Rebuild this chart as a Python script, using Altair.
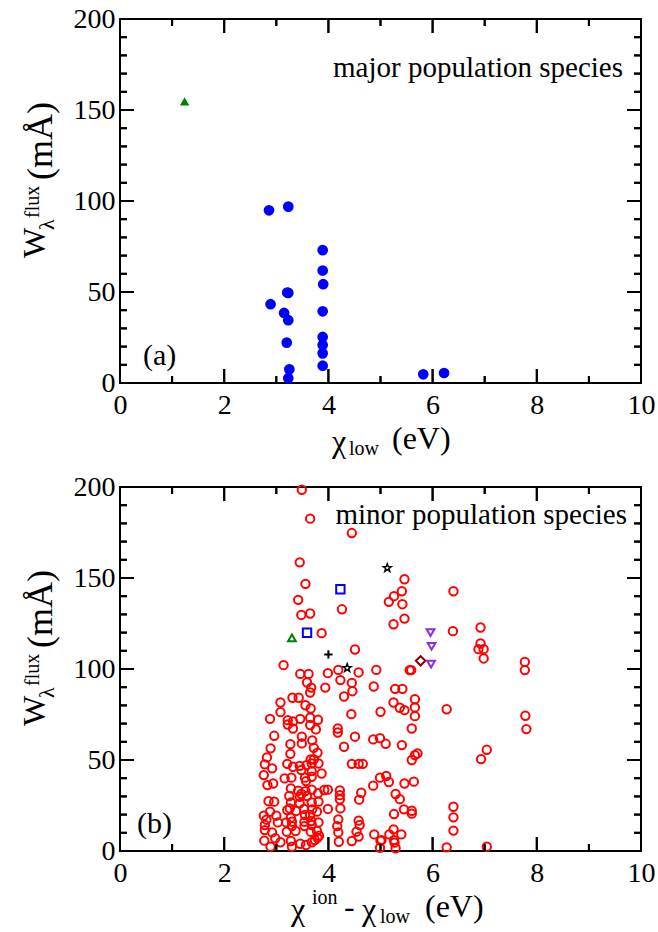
import altair as alt
import pandas as pd

FONT = "Liberation Serif, Times New Roman, Times, serif"

# ---------------- panel (a): major population species ----------------
a_circ_x = [2.86, 3.23, 3.89, 3.89, 3.90, 3.21, 3.23, 2.89, 3.15, 3.23, 3.89,
            3.20, 3.89, 3.89, 3.89, 3.89, 3.25, 3.23, 5.82, 6.22]
a_circ_w = [94.9, 96.9, 73.0, 61.8, 54.3, 49.7, 49.5, 43.3, 38.5, 34.5, 39.4,
            22.2, 25.3, 20.9, 16.3, 9.5, 7.5, 2.6, 4.8, 5.5]
a_tri_x = [1.24]
a_tri_w = [154.7]

# ---------------- panel (b): minor population species ----------------
b_circ_x = [3.49, 3.65, 4.45, 3.45, 3.56, 3.42, 4.26, 3.48, 3.65, 3.87, 4.51, 3.14,
            3.46, 3.62, 3.99, 4.19, 4.23, 4.58, 4.92, 3.59, 3.65, 3.67, 3.94, 4.45,
            4.46, 4.30, 3.31, 3.43, 3.08, 3.08, 3.56, 3.66, 3.65, 2.88, 3.22, 3.32,
            3.46, 3.80, 3.22, 3.65, 4.44, 5.00, 3.32, 3.76, 4.18, 4.18, 2.96, 3.49,
            3.69, 3.27, 3.49, 4.51, 4.30, 4.86, 4.99, 2.89, 3.72, 3.79, 2.82, 3.27,
            3.66, 3.72, 3.81, 2.78, 3.21, 3.32, 3.45, 3.58, 3.68, 4.45, 4.58, 4.66,
            2.92, 3.48, 3.68, 3.87, 2.76, 3.16, 3.29, 3.55, 3.68, 3.57, 2.83, 2.94,
            4.99, 4.86, 3.28, 3.42, 3.56, 3.68, 3.92, 3.99, 4.22, 4.63, 3.48, 3.25,
            3.45, 3.59, 3.80, 4.22, 2.85, 2.96, 3.28, 3.45, 3.68, 3.81, 4.22, 4.59,
            3.26, 3.53, 3.69, 3.99, 4.23, 3.21, 3.38, 3.78, 2.88, 2.76, 3.00, 3.55,
            3.65, 3.28, 2.81, 4.19, 4.58, 3.03, 3.19, 3.30, 3.54, 3.67, 3.81, 2.78,
            3.30, 3.54, 3.68, 4.17, 4.60, 2.78, 2.92, 3.20, 3.37, 3.66, 3.78, 4.19,
            4.54, 4.88, 2.77, 2.98, 3.08, 3.28, 3.30, 3.46, 3.57, 3.68, 3.74, 3.79,
            3.82, 4.20, 4.45, 2.89, 4.58, 5.02,
            5.46, 5.41, 5.26, 5.16, 5.42, 5.46, 5.25, 6.40, 6.39, 6.92, 6.92, 6.88,
            6.98, 6.98, 7.77, 7.77, 5.56, 5.59, 4.87, 5.28, 5.42, 5.25, 5.37, 5.46,
            5.66, 5.66, 5.66, 5.60, 6.27, 7.78, 7.80, 5.10, 5.41, 5.60, 5.66, 5.71,
            6.93, 7.04, 5.11, 5.16, 5.46, 5.64, 5.29, 5.37, 5.45, 5.60, 5.60, 5.26,
            6.40, 6.40, 6.40, 5.17, 5.25, 5.26, 5.27, 5.40, 5.00, 4.99, 6.27, 7.04,
            5.29]
b_circ_w = [198.5, 182.6, 174.7, 158.6, 146.8, 138.0, 132.8, 129.7, 130.5, 119.7, 110.7, 102.1,
            97.3, 97.3, 97.7, 99.5, 93.9, 98.1, 99.5, 92.6, 87.1, 89.8, 89.8, 92.4,
            87.8, 84.9, 84.2, 84.2, 81.6, 76.3, 80.1, 78.3, 73.2, 72.6, 71.9, 71.2,
            72.6, 72.1, 69.5, 69.2, 75.2, 76.5, 67.3, 66.8, 67.3, 65.1, 63.3, 62.8,
            60.8, 58.7, 59.1, 62.8, 57.3, 61.3, 62.0, 56.4, 56.7, 54.0, 51.4, 53.4,
            50.3, 50.3, 48.1, 47.6, 47.9, 46.3, 46.8, 47.2, 48.1, 47.9, 47.9, 47.9,
            45.4, 44.5, 43.9, 42.6, 41.7, 39.9, 40.3, 40.3, 40.8, 38.4, 36.2, 37.1,
            40.3, 35.9, 34.4, 33.1, 32.9, 33.7, 33.5, 33.7, 33.3, 32.0, 31.3, 30.2,
            29.8, 30.2, 31.7, 30.7, 27.4, 27.1, 26.7, 26.2, 26.7, 27.1, 28.4, 28.2,
            23.4, 23.1, 22.9, 23.1, 23.4, 22.5, 22.0, 21.6, 21.6, 19.4, 19.4, 19.8,
            19.8, 18.3, 17.2, 17.4, 16.7, 15.7, 15.7, 16.1, 16.1, 16.5, 15.7, 14.3,
            13.7, 13.7, 14.3, 13.7, 14.3, 11.5, 10.2, 10.6, 11.0, 10.6, 11.0, 10.2,
            10.6, 9.1, 5.7, 7.0, 4.8, 5.5, 2.4, 4.0, 3.3, 4.8, 6.0, 7.3,
            8.4, 5.1, 5.5, 2.4, 7.9, 6.0,
            149.3, 142.7, 140.0, 136.9, 135.6, 127.7, 124.6, 142.7, 120.8, 122.8, 114.0, 110.9,
            110.9, 105.8, 103.9, 99.4, 99.4, 99.4, 90.4, 89.1, 89.1, 81.6, 78.7, 77.4,
            83.4, 78.9, 74.1, 67.3, 77.9, 74.3, 67.0, 58.9, 58.2, 50.0, 52.7, 53.6,
            50.5, 55.6, 41.2, 37.9, 37.1, 38.1, 31.3, 28.5, 22.9, 22.1, 20.5, 20.3,
            24.3, 18.5, 11.2, 9.1, 11.9, 6.0, 4.6, 9.1, 5.7, 1.8, 2.0, 2.4,
            1.5]
b_tri_up_x = [3.30]
b_tri_up_w = [117.1]
b_sq_x = [3.59, 4.23]
b_sq_w = [119.9, 143.8]
b_plus_x = [4.00]
b_plus_w = [108.0]
b_star_x = [4.36, 5.13]
b_star_w = [100.6, 155.5]
b_dia_x = [5.77]
b_dia_w = [104.5]
b_tri_dn_x = [5.96, 5.98, 5.97]
b_tri_dn_w = [120.0, 112.5, 102.7]

# ---------------- axes ----------------
X_MAJOR = [0.0, 2.0, 4.0, 6.0, 8.0, 10.0]
X_MINOR = [1.0, 3.0, 5.0, 7.0, 9.0]
Y_MAJOR = [0.0, 50.0, 100.0, 150.0, 200.0]
Y_MINOR = [float(v) for v in range(0, 201, 10) if v % 50 != 0]
X_DOM = [0.0, 10.0]
Y_DOM = [0.0, 200.0]

W, H = 521, 364
MAJ, MIN = 14, 7
TW = 2.0  # tick width, px

xs = alt.Scale(domain=X_DOM, nice=False, zero=False)
ys = alt.Scale(domain=Y_DOM, nice=False, zero=False)

STAR = ("M0,-1L0.235,-0.324L0.951,-0.309L0.380,0.124L0.588,0.809L0,0.4"
        "L-0.588,0.809L-0.380,0.124L-0.951,-0.309L-0.235,-0.324Z")
PLUS = "M-1,0L1,0M0,-1L0,1"

PX_X = (X_DOM[1] - X_DOM[0]) / W   # data units per pixel
PX_Y = (Y_DOM[1] - Y_DOM[0]) / H


def df(xv, wv):
    return pd.DataFrame({"x": xv, "w": wv})


def pts(xv, wv, **mark):
    return alt.Chart(df(xv, wv)).mark_point(opacity=1, **mark).encode(
        x=alt.X("x:Q", scale=xs, axis=None),
        y=alt.Y("w:Q", scale=ys, axis=None),
    )


def tick_rects():
    """Inward ticks on all four sides as thin filled rectangles (pixel sizes -> data units)."""
    rows = []
    hw = TW / 2 * PX_X
    for vals, ln in ((X_MAJOR, MAJ), (X_MINOR, MIN)):
        for v in vals:
            rows.append({"x": v - hw, "x2": v + hw, "w": Y_DOM[0], "w2": Y_DOM[0] + ln * PX_Y})
            rows.append({"x": v - hw, "x2": v + hw, "w": Y_DOM[1] - ln * PX_Y, "w2": Y_DOM[1]})
    hh = TW / 2 * PX_Y
    for vals, ln in ((Y_MAJOR, MAJ), (Y_MINOR, MIN)):
        for v in vals:
            rows.append({"x": X_DOM[0], "x2": X_DOM[0] + ln * PX_X, "w": v - hh, "w2": v + hh})
            rows.append({"x": X_DOM[1] - ln * PX_X, "x2": X_DOM[1], "w": v - hh, "w2": v + hh})
    t = pd.DataFrame(rows)
    return alt.Chart(t).mark_rect(color="#000000", opacity=1).encode(
        x=alt.X("x:Q", scale=xs, axis=None), x2="x2:Q",
        y=alt.Y("w:Q", scale=ys, axis=None), y2="w2:Q",
    )


def bar_path(ln, vertical):
    h = TW / ln  # half width in symbol units (symbol half-length = ln/2 px)
    if vertical:
        return f"M{-h},-1L{h},-1L{h},1L{-h},1Z"
    return f"M-1,{-h}L1,{-h}L1,{h}L-1,{h}Z"


def tick_symbols():
    rows = []
    for vals, ln, k in ((X_MAJOR, MAJ, "vM"), (X_MINOR, MIN, "vm")):
        for v in vals:
            rows.append({"x": v, "w": Y_DOM[0] + ln / 2 * PX_Y, "k": k, "s": ln * ln})
            rows.append({"x": v, "w": Y_DOM[1] - ln / 2 * PX_Y, "k": k, "s": ln * ln})
    for vals, ln, k in ((Y_MAJOR, MAJ, "hM"), (Y_MINOR, MIN, "hm")):
        for v in vals:
            rows.append({"x": X_DOM[0] + ln / 2 * PX_X, "w": v, "k": k, "s": ln * ln})
            rows.append({"x": X_DOM[1] - ln / 2 * PX_X, "w": v, "k": k, "s": ln * ln})
    t = pd.DataFrame(rows)
    return alt.Chart(t).mark_point(filled=True, color="#000000", opacity=1).encode(
        x=alt.X("x:Q", scale=xs, axis=None),
        y=alt.Y("w:Q", scale=ys, axis=None),
        shape=alt.Shape("k:N", scale=alt.Scale(
            domain=["vM", "vm", "hM", "hm"],
            range=[bar_path(MAJ, True), bar_path(MIN, True),
                   bar_path(MAJ, False), bar_path(MIN, False)]), legend=None),
        size=alt.Size("s:Q", scale=None, legend=None),
    )


def label_layer():
    ax_x = alt.Axis(orient="bottom", values=X_MAJOR, ticks=False, domain=False,
                    grid=False, labelFont=FONT, labelFontSize=28, labelColor="black",
                    labelPadding=8, labelFlush=False, labelOverlap=False,
                    format="d", title=None)
    ax_y = alt.Axis(orient="left", values=Y_MAJOR, ticks=False, domain=False,
                    grid=False, labelFont=FONT, labelFontSize=28, labelColor="black",
                    labelPadding=5, labelFlush=False, labelOverlap=False,
                    format="d", title=None)
    return alt.Chart(df([0.0], [0.0])).mark_point(opacity=0).encode(
        x=alt.X("x:Q", scale=xs, axis=ax_x),
        y=alt.Y("w:Q", scale=ys, axis=ax_y),
    )


def txt(text, x, y, size, angle=0, align="left", baseline="alphabetic"):
    return alt.Chart(pd.DataFrame({"t": [text]})).mark_text(
        text=text, font=FONT, fontSize=size, angle=angle, align=align,
        baseline=baseline, color="black",
    ).encode(x=alt.value(x), y=alt.value(y))


def ytitle():
    # W_lambda^flux (mÅ), rotated; positions relative to plot origin
    return [
        txt("W", -75, 239, 32, angle=270),
        txt("λ", -66, 211, 22, angle=270),
        txt("flux", -81, 199, 20, angle=270),
        txt("(mÅ)", -68, 161, 36, angle=270),
    ]


# ---------------- panel (a) ----------------
top_layers = [label_layer()] + [
    pts(a_circ_x, a_circ_w, shape="circle", filled=True, color="#0000ff", size=115),
    pts(a_tri_x, a_tri_w, shape="triangle-up", filled=True, color="#008000", size=90),
    txt("major population species", 503, 58, 29, align="right"),
    txt("(a)", 23, 346, 30),
    txt("χ", 212, 433, 32),
    txt("low", 229, 436, 20),
    txt("(eV)", 272, 430, 32),
] + ytitle() + [tick_rects(), tick_symbols()]

top = alt.layer(*top_layers).resolve_axis(x="independent", y="independent").properties(
    width=W, height=H)

# ---------------- panel (b) ----------------
bot_layers = [label_layer()] + [
    pts(b_circ_x, b_circ_w, shape="circle", filled=False, color="#ff0000", size=70, strokeWidth=2),
    pts(b_tri_up_x, b_tri_up_w, shape="triangle-up", filled=False, color="#008000", size=60, strokeWidth=2),
    pts(b_sq_x, b_sq_w, shape="square", filled=False, color="#0000ff", size=70, strokeWidth=2),
    pts(b_plus_x, b_plus_w, shape=PLUS, filled=False, color="#000000", size=70, strokeWidth=2),
    pts(b_star_x, b_star_w, shape=STAR, filled=False, color="#000000", size=70, strokeWidth=1.5),
    pts(b_dia_x, b_dia_w, shape="diamond", filled=False, color="#8b0000", size=90, strokeWidth=2),
    pts(b_tri_dn_x, b_tri_dn_w, shape="triangle-down", filled=False, color="#8a2be2", size=60, strokeWidth=2),
    txt("minor population species", 507, 37, 29, align="right"),
    txt("(b)", 17, 346, 30),
    txt("χ", 171, 433, 32),
    txt("ion", 192, 417, 20),
    txt("-", 224, 430, 32),
    txt("χ", 242, 433, 32),
    txt("low", 260, 436, 20),
    txt("(eV)", 305, 430, 32),
] + ytitle() + [tick_rects(), tick_symbols()]

bottom = alt.layer(*bot_layers).resolve_axis(x="independent", y="independent").properties(
    width=W, height=H)

chart = alt.vconcat(top, bottom, spacing=104, bounds="flush").configure_view(
    stroke="black", strokeWidth=2
).properties(padding={"left": 18, "top": 4, "right": 0, "bottom": 0})

chart.save("out.html", embed_options={"renderer": "svg", "actions": False})
